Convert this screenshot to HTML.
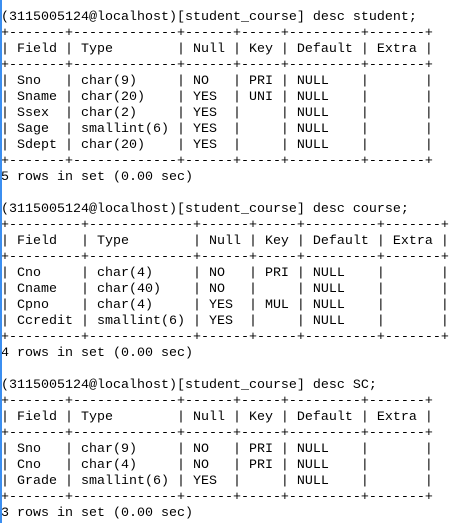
<!DOCTYPE html>
<html><head><meta charset="utf-8"><style>
html,body{margin:0;padding:0;background:#fff;width:457px;height:523px;overflow:hidden;position:relative}
pre{margin:0;padding:10px 0 0 1px;font-family:"Liberation Mono",monospace;font-size:13.33px;line-height:16px;color:#000}
.bar{position:absolute;left:0;top:0;width:2px;height:523px;background:#3b8ef0}
</style></head><body><div class="bar"></div><pre>(3115005124@localhost)[student_course] desc student;
+-------+-------------+------+-----+---------+-------+
| Field | Type        | Null | Key | Default | Extra |
+-------+-------------+------+-----+---------+-------+
| Sno   | char(9)     | NO   | PRI | NULL    |       |
| Sname | char(20)    | YES  | UNI | NULL    |       |
| Ssex  | char(2)     | YES  |     | NULL    |       |
| Sage  | smallint(6) | YES  |     | NULL    |       |
| Sdept | char(20)    | YES  |     | NULL    |       |
+-------+-------------+------+-----+---------+-------+
5 rows in set (0.00 sec)

(3115005124@localhost)[student_course] desc course;
+---------+-------------+------+-----+---------+-------+
| Field   | Type        | Null | Key | Default | Extra |
+---------+-------------+------+-----+---------+-------+
| Cno     | char(4)     | NO   | PRI | NULL    |       |
| Cname   | char(40)    | NO   |     | NULL    |       |
| Cpno    | char(4)     | YES  | MUL | NULL    |       |
| Ccredit | smallint(6) | YES  |     | NULL    |       |
+---------+-------------+------+-----+---------+-------+
4 rows in set (0.00 sec)

(3115005124@localhost)[student_course] desc SC;
+-------+-------------+------+-----+---------+-------+
| Field | Type        | Null | Key | Default | Extra |
+-------+-------------+------+-----+---------+-------+
| Sno   | char(9)     | NO   | PRI | NULL    |       |
| Cno   | char(4)     | NO   | PRI | NULL    |       |
| Grade | smallint(6) | YES  |     | NULL    |       |
+-------+-------------+------+-----+---------+-------+
3 rows in set (0.00 sec)
</pre></body></html>
